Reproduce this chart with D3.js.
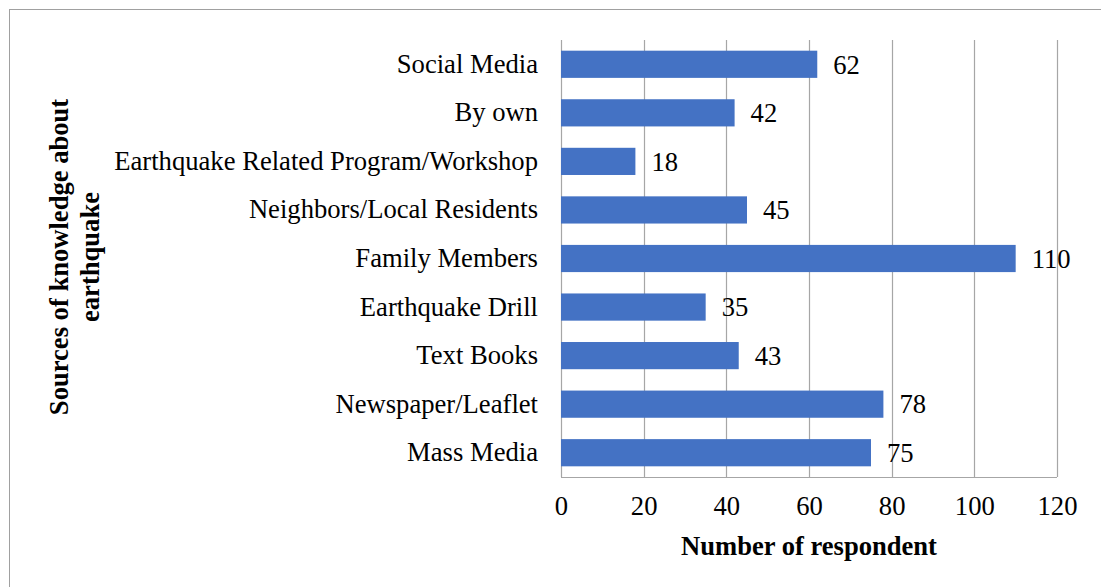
<!DOCTYPE html>
<html>
<head>
<meta charset="utf-8">
<script src="https://cdn.jsdelivr.net/npm/d3@7"></script>
<style>
  html, body { margin: 0; padding: 0; background: #fff; }
  svg text { font-family: "Times New Roman", "Liberation Serif", Tinos, "DejaVu Serif", serif; fill: #000; }
</style>
</head>
<body>
<svg id="chart" width="1101" height="587"></svg>
<script>
// Sources of knowledge about earthquakes (number of respondents)
const categories = [
  "Social Media",
  "By own",
  "Earthquake Related Program/Workshop",
  "Neighbors/Local Residents",
  "Family Members",
  "Earthquake Drill",
  "Text Books",
  "Newspaper/Leaflet",
  "Mass Media"
];
const respondents = [62, 42, 18, 45, 110, 35, 43, 78, 75];
const xTicks = [0, 20, 40, 60, 80, 100, 120];

const FONT = '"Times New Roman", "Liberation Serif", Tinos, "DejaVu Serif", serif';
const svg = d3.select("#chart");
const W = 1101, H = 587;

// pick a font size so that a sample string spans a given width
function fitSize(str, targetWidth, bold) {
  const t = svg.append("text").style("font-family", FONT).style("font-size", "100px")
    .style("font-weight", bold ? "bold" : "normal").text(str);
  const w = t.node().getComputedTextLength();
  t.remove();
  return 100 * targetWidth / w;
}
const labelSize = fitSize("Earthquake Related Program/Workshop", 424, false);
const titleSize = fitSize("Number of respondent", 256, true);

// outer frame
svg.append("rect")
  .attr("x", 9.5).attr("y", 9.5)
  .attr("width", W).attr("height", H)
  .attr("fill", "none").attr("stroke", "#a0a0a0").attr("stroke-width", 1);

const plot = { left: 561, right: 1057, top: 40, bottom: 477 };

const x = d3.scaleLinear().domain([0, 120]).range([plot.left, plot.right]);
const y = d3.scaleBand().domain(categories).range([plot.top, plot.bottom]).paddingInner(0.44).paddingOuter(0.22);

// vertical gridlines
svg.append("g")
  .selectAll("line")
  .data(xTicks)
  .join("line")
  .attr("x1", d => Math.round(x(d)) + 0.5)
  .attr("x2", d => Math.round(x(d)) + 0.5)
  .attr("y1", plot.top)
  .attr("y2", plot.bottom)
  .attr("stroke", "#a6a6a6")
  .attr("stroke-width", 1.2);

// bottom axis line
svg.append("line")
  .attr("x1", plot.left).attr("x2", plot.right)
  .attr("y1", plot.bottom + 0.5).attr("y2", plot.bottom + 0.5)
  .attr("stroke", "#a6a6a6").attr("stroke-width", 1.2);

// x tick labels
const xAxis = d3.axisBottom(x).tickValues(xTicks).tickSize(0).tickPadding(19);
const gx = svg.append("g").attr("transform", `translate(0,${plot.bottom})`).call(xAxis);
gx.attr("font-family", null);
gx.select(".domain").remove();
gx.selectAll("text").style("font-size", labelSize + "px").style("font-family", FONT);

// category labels
const yAxis = d3.axisLeft(y).tickSize(0).tickPadding(23);
const gy = svg.append("g").attr("transform", `translate(${plot.left},0)`).call(yAxis);
gy.attr("font-family", null);
gy.select(".domain").remove();
gy.selectAll("text").style("font-size", labelSize + "px").style("font-family", FONT);

// bars
svg.append("g")
  .selectAll("rect")
  .data(categories)
  .join("rect")
  .attr("x", x(0))
  .attr("y", d => y(d))
  .attr("width", (d, i) => x(respondents[i]) - x(0))
  .attr("height", y.bandwidth())
  .attr("fill", "#4472C4");

// value labels
svg.append("g")
  .selectAll("text")
  .data(categories)
  .join("text")
  .attr("x", (d, i) => x(respondents[i]) + 16)
  .attr("y", d => y(d) + y.bandwidth() / 2)
  .attr("dy", "0.35em")
  .style("font-size", labelSize + "px")
  .text((d, i) => respondents[i]);

// axis titles
svg.append("text")
  .attr("x", (plot.left + plot.right) / 2)
  .attr("y", 555)
  .attr("text-anchor", "middle")
  .style("font-size", titleSize + "px")
  .style("font-weight", "bold")
  .text("Number of respondent");

const yTitle = svg.append("text")
  .attr("transform", `translate(68,257) rotate(-90)`)
  .attr("text-anchor", "middle")
  .style("font-size", titleSize + "px")
  .style("font-weight", "bold");
yTitle.append("tspan").attr("x", 0).attr("dy", 0).text("Sources of knowledge about");
yTitle.append("tspan").attr("x", 0).attr("dy", 31).text("earthquake");
</script>
</body>
</html>
